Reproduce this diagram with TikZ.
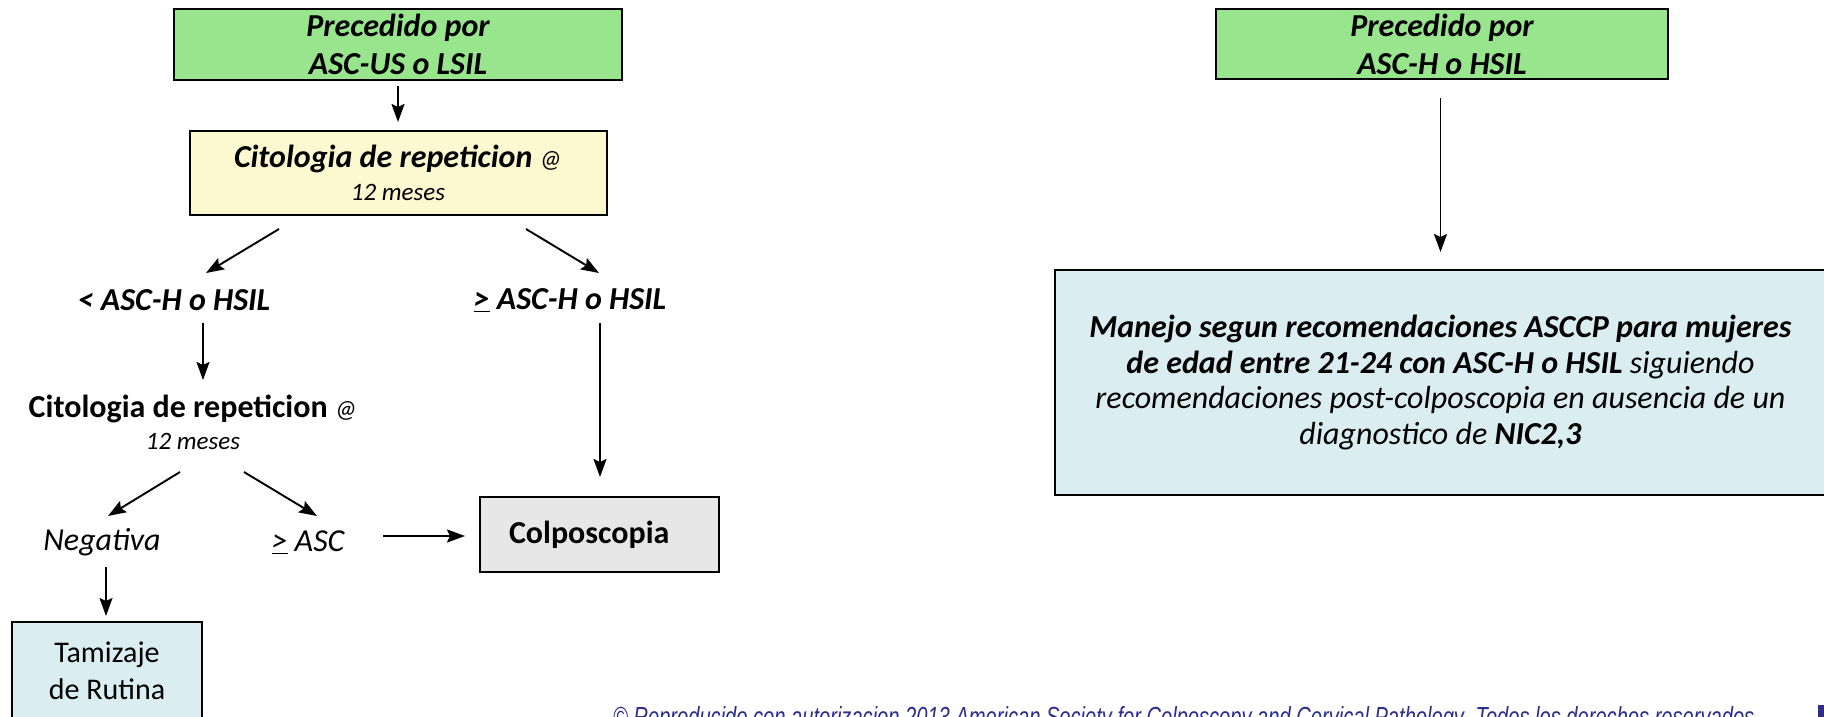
\documentclass[tikz,border=0pt]{standalone}
\usepackage{fontspec}
\setmainfont{Carlito}
\newfontfamily\footfont{Liberation Sans}
\usetikzlibrary{arrows.meta}
\definecolor{boxgreen}{RGB}{152,229,141}
\definecolor{boxyellow}{RGB}{252,249,209}
\definecolor{boxgray}{RGB}{231,231,231}
\definecolor{boxblue}{RGB}{218,237,241}
\definecolor{footblue}{RGB}{45,45,140}
\newcommand{\ulgt}{\underline{>}}
\newcommand{\smallit}{\fontsize{25}{32}\selectfont\itshape}
\begin{document}
\begin{tikzpicture}[x=1pt,y=-1pt,
  box/.style={draw=black, line width=2pt, inner sep=0pt, align=center},
  lbl/.style={inner sep=0pt, align=center},
  big/.style={font=\fontsize{32}{38}\selectfont},
  arr/.style={line width=1.9pt, -{Stealth[length=18pt,width=13pt,inset=3pt]}},
]
\useasboundingbox (0,0) rectangle (1824,717);
\clip (0,0) rectangle (1824,717);
\fill[white] (0,0) rectangle (1824,717);

% left column
\node[box, fill=boxgreen, minimum width=448pt, minimum height=71pt, big] (g1) at (398,44.5)
  {\bfseries\itshape Precedido por\\ \bfseries\itshape ASC-US o LSIL};
\node[box, fill=boxyellow, minimum width=417pt, minimum height=84pt, font=\fontsize{32}{33}\selectfont] (y1) at (398,173)
  {\textbf{\textit{Citologia de repeticion}} {\smallit @}\\ {\smallit 12 meses}};
\node[lbl, big] (lt) at (174,300) {\bfseries\itshape < ASC-H o HSIL};
\node[lbl, big] (gt) at (570,300) {\bfseries\itshape \ulgt\ ASC-H o HSIL};
\node[lbl, font=\fontsize{32}{32}\selectfont] (c2) at (193,422)
  {\textbf{Citologia de repeticion} {\smallit @}\\ {\smallit 12 meses}};
\node[lbl, big] (neg) at (102,542) {\itshape Negativa};
\node[lbl, big] (asc) at (308,542) {\itshape \ulgt\ ASC};
\node[box, fill=boxgray, minimum height=75pt, text width=181pt, inner xsep=29pt, align=left, big] (colp) at (599.5,534.5)
  {\bfseries Colposcopia};
\node[box, fill=boxblue, minimum width=190pt, minimum height=97pt, font=\fontsize{30}{37}\selectfont] (tam) at (107,670.5)
  {Tamizaje\\de Rutina};

% right column
\node[box, fill=boxgreen, minimum width=452pt, minimum height=70pt, big] (g2) at (1442,44)
  {\bfseries\itshape Precedido por\\ \bfseries\itshape ASC-H o HSIL};
\node[box, fill=boxblue, minimum width=771pt, minimum height=225pt, font=\fontsize{32}{35.5}\selectfont] (bl) at (1440.5,382.5)
  {\textbf{\textit{Manejo segun recomendaciones ASCCP para mujeres}}\\
   \textbf{\textit{de edad entre 21-24 con ASC-H o HSIL}} \textit{siguiendo}\\
   \textit{recomendaciones post-colposcopia en ausencia de un}\\
   \textit{diagnostico de} \textbf{\textit{NIC2,3}}};

% connectors
\draw[arr, shorten <=5pt, shorten >=8pt] (g1) -- (y1);
\coordinate (d1s) at (279,229); \coordinate (d1e) at (206,273);
\coordinate (d2s) at (526,229); \coordinate (d2e) at (599,273);
\draw[arr] (d1s) -- (d1e);
\draw[arr] (d2s) -- (d2e);
\coordinate (v1s) at (203,323); \coordinate (v1e) at (203,380);
\draw[arr] (v1s) -- (v1e);
\coordinate (v2s) at (600,323); \coordinate (v2e) at (600,477);
\draw[arr] (v2s) -- (v2e);
\coordinate (d3s) at (180,472); \coordinate (d3e) at (108,516);
\coordinate (d4s) at (244,472); \coordinate (d4e) at (317,516);
\draw[arr] (d3s) -- (d3e);
\draw[arr] (d4s) -- (d4e);
\coordinate (hs) at (383,536); \coordinate (he) at (465,536);
\draw[arr] (hs) -- (he);
\coordinate (v3s) at (106,567); \coordinate (v3e) at (106,616);
\draw[arr] (v3s) -- (v3e);
\draw[arr, shorten <=18pt, shorten >=17pt] (g2.south -| bl.north) -- (bl.north);

% footer (cut off by the lower edge, as in the reference)
\node[lbl, anchor=base west, text=footblue, inner sep=0pt] (foot) at (613,726)
  {\resizebox{1141pt}{20pt}{\footfont\itshape © Reproducido con autorizacion 2013 American Society for Colposcopy and Cervical Pathology. Todos los derechos reservados}};
\fill[footblue] (1818,705) rectangle (1830,720);
\end{tikzpicture}
\end{document}
